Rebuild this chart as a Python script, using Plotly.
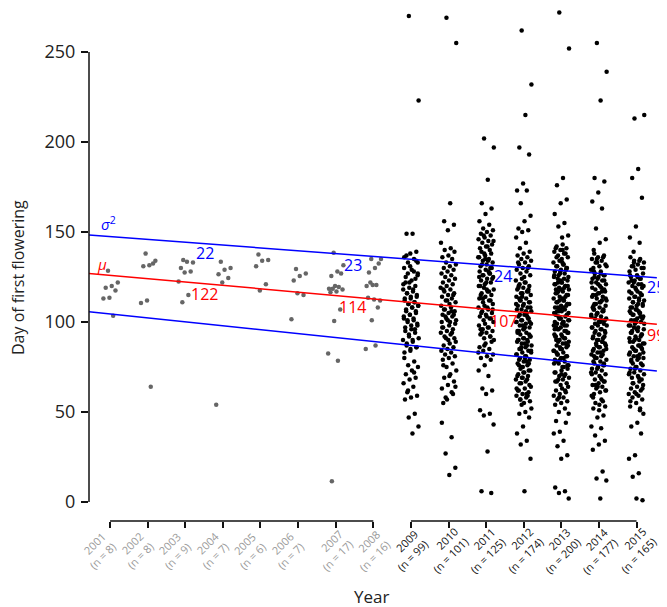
import plotly.graph_objects as go

# ---------------- data ----------------
years_early = [2001, 2002, 2003, 2004, 2005, 2006, 2007, 2008]
years_late = [2009, 2010, 2011, 2012, 2013, 2014, 2015]
n_early = [8, 8, 9, 7, 6, 7, 17, 16]
n_late = [99, 101, 125, 174, 200, 177, 165]

y2001 = [128.5, 122, 120, 119, 117.5, 113.5, 113, 103.5]
y2002 = [138, 134, 131.5, 131, 132.5, 112, 110.5, 64]
y2003 = [134.5, 133, 133.5, 130, 128, 127.5, 122.5, 115, 111]
y2004 = [133.5, 130, 129, 126.5, 124.5, 122, 54]
y2005 = [137.5, 134.5, 134, 131, 121, 117.5]
y2006 = [129.5, 127, 125.5, 123, 115, 116, 101.5]
y2007 = [138.5, 131.5, 128, 125.5, 127, 120, 118.5, 119.5, 118.5, 118, 117, 116.5,
         107, 100.5, 82.5, 78.5, 11.5]
y2008 = [135, 135, 130, 127.5, 132.5, 120.5, 120, 120.5, 122, 112, 112.5, 113.5,
         108, 101, 85, 87]

y2009 = [270, 223, 149, 149, 139, 138, 136, 135, 133, 133, 129, 125, 124, 122, 121,
         118, 116, 115, 114, 113, 111, 110, 109, 108, 106, 105, 104, 102, 101, 100,
         98, 96, 95, 94, 92, 90, 89, 88, 86, 85, 83, 78, 76, 75, 73, 71, 69, 68, 66,
         64, 61, 59, 58, 57, 49, 47, 42, 38, 137, 134, 131, 130, 128, 127, 126, 123,
         122, 120, 119, 118, 117, 116, 114, 113, 112, 111, 110, 109, 108, 107, 106,
         104, 103, 102, 101, 99, 98, 97, 96, 93, 91, 90, 87, 86, 84, 80, 72, 62, 127]
y2010 = [269, 255, 166, 156, 154, 151, 44, 36, 27, 19, 15, 55, 60, 57,
         144, 141, 140, 139, 137, 136, 135, 133, 132, 131, 130,
         129, 128, 127, 126, 125, 124, 123, 122, 121, 120,
         119, 118, 117, 116, 115, 114, 113, 112, 111, 110, 118, 115, 112,
         109, 108, 107, 106, 105, 104, 103, 102, 101, 100, 107, 104, 101, 100, 106, 103,
         99, 98, 97, 96, 95, 94, 93, 92, 91, 90, 97, 94, 91,
         89, 88, 87, 86, 85, 84, 83, 82, 81, 80,
         79, 77, 75, 73, 71, 69, 67, 65, 63, 61, 58, 64, 70, 76]
y2011 = [202, 197, 179, 166, 163, 160, 156, 154, 152, 151, 150,
         149, 148, 147, 146, 145, 144, 143, 142, 141, 140, 148, 145, 142,
         139, 138, 137, 136, 135, 134, 133, 132, 131, 130, 138, 136, 134, 132, 130,
         129, 128, 127, 126, 125, 124, 123, 122, 121, 120, 128, 126, 124, 122, 120, 127,
         119, 118, 117, 116, 115, 114, 113, 112, 111, 110, 118, 115, 112,
         109, 108, 107, 106, 105, 104, 103, 102, 101, 100, 108, 105, 102,
         99, 98, 97, 96, 95, 94, 93, 92, 91, 90, 97, 94,
         89, 88, 86, 85, 84, 82, 81, 80,
         79, 76, 73, 70, 63, 62, 60, 51, 49, 48, 43, 28, 6, 5,
         135, 125, 117, 113, 107, 103, 96, 92, 87, 83]
y2012 = [262, 232, 215, 197, 193, 177, 173, 173, 166, 159, 156, 152, 151, 150, 147,
         144, 141, 139, 138, 137, 136, 135,
         134, 133, 132, 131, 130, 129, 128, 127, 126, 125, 133, 130,
         124, 123, 122, 121, 120, 119, 118, 117, 116, 115, 122, 120, 118, 116,
         114, 113, 112, 111, 110, 109, 108, 107, 106, 105, 113, 111, 109, 107, 105, 112, 108,
         104, 103, 102, 101, 100, 99, 98, 97, 96, 95, 103, 101, 99, 97, 95, 102, 98, 100,
         94, 93, 92, 91, 90, 89, 88, 87, 86, 85, 93, 91, 89, 87, 85, 92, 88, 90,
         84, 83, 82, 81, 80, 79, 78, 77, 76, 75, 83, 81, 79, 77, 75, 82, 78,
         74, 73, 72, 71, 70, 69, 68, 67, 66, 65, 72, 70, 68, 66,
         64, 63, 62, 61, 60, 59, 58, 57, 56, 55, 62, 59,
         54, 52, 50, 49, 47, 42, 38, 34, 32, 24, 6,
         119, 117, 114, 110, 106, 104, 100, 96, 94, 90, 86, 84, 80, 76, 73, 69, 63, 60, 57]
y2013 = [272, 252, 180, 176, 168, 166, 160, 155, 153, 148, 147,
         45, 44, 39, 38, 34, 31, 26, 24, 8, 6, 5, 2,
         143, 142, 141, 140, 139, 138, 137, 136, 135, 141, 138,
         134, 133, 132, 131, 130, 129, 128, 127, 126, 125, 133, 131, 129, 127, 125, 132,
         124, 123, 122, 121, 120, 119, 118, 117, 116, 115, 123, 121, 119, 117, 115, 122, 118, 120,
         114, 113, 112, 111, 110, 109, 108, 107, 106, 105, 113, 111, 109, 107, 105, 112, 108, 110, 106,
         104, 103, 102, 101, 100, 99, 98, 97, 96, 95, 103, 101, 99, 97, 95, 102, 98, 100, 96,
         94, 93, 92, 91, 90, 89, 88, 87, 86, 85, 93, 91, 89, 87, 85, 92, 88, 90,
         84, 83, 82, 81, 80, 79, 78, 77, 76, 75, 83, 81, 79, 77, 75, 82,
         74, 73, 72, 71, 70, 69, 68, 67, 66, 65, 72, 70, 68,
         64, 63, 62, 61, 60, 59, 58, 57, 56, 55, 54, 52, 50, 49,
         140, 136, 130, 128, 126, 124, 122, 120, 118, 116, 114, 112, 110, 108, 106, 104,
         102, 100, 98, 96, 94, 92, 90, 88, 86, 84, 80, 78, 76, 71, 67, 62, 58]
y2014 = [255, 239, 223, 180, 178, 172, 167, 163, 152, 146, 144, 140,
         48, 47, 42, 41, 37, 34, 32, 29, 17, 13, 12, 2,
         138, 137, 136, 135, 134, 133, 132, 131, 130, 136, 133,
         129, 128, 127, 126, 125, 124, 123, 122, 121, 120, 128, 126, 124, 122,
         119, 118, 117, 116, 115, 114, 113, 112, 111, 110, 118, 116, 114, 112, 110,
         109, 108, 107, 106, 105, 104, 103, 102, 101, 100, 108, 106, 104, 102, 100, 107,
         99, 98, 97, 96, 95, 94, 93, 92, 91, 90, 98, 96, 94, 92, 90, 97,
         89, 88, 87, 86, 85, 84, 83, 82, 81, 80, 88, 86, 84, 82, 80,
         79, 78, 77, 76, 75, 74, 73, 72, 71, 70, 78, 76, 74, 72,
         69, 68, 67, 66, 65, 64, 63, 62, 61, 60, 67, 64,
         59, 57, 55, 53, 51, 58, 56,
         135, 131, 127, 125, 123, 121, 119, 117, 115, 113, 111, 109, 107, 105, 103, 101,
         99, 95, 93, 91, 89, 87, 85, 83, 81, 77, 75, 71, 68, 65, 62, 54, 52]
y2015 = [213, 215, 185, 180, 169, 153, 147, 144, 139,
         49, 44, 42, 38, 26, 24, 16, 14, 1, 2,
         136, 135, 134, 133, 132, 131, 130, 129, 128, 134, 131,
         127, 126, 125, 124, 123, 122, 121, 120, 119, 118, 126, 124, 122, 120,
         117, 116, 115, 114, 113, 112, 111, 110, 109, 108, 116, 114, 112, 110, 108, 115,
         107, 106, 105, 104, 103, 102, 101, 100, 99, 98, 106, 104, 102, 100, 98, 105,
         97, 96, 95, 94, 93, 92, 91, 90, 89, 88, 96, 94, 92, 90, 88,
         87, 86, 85, 84, 83, 82, 81, 80, 79, 78, 86, 84, 82, 80,
         77, 76, 75, 74, 73, 72, 71, 70, 69, 68, 75, 72,
         67, 66, 65, 64, 63, 62, 61, 60, 59, 58, 57, 55, 53, 51,
         133, 130, 125, 123, 121, 119, 117, 113, 111, 109, 107, 105, 103, 101, 99, 97,
         95, 93, 91, 89, 87, 85, 83, 81, 79, 77, 74, 71, 69, 66, 63, 60, 56, 52]

values_early = [y2001, y2002, y2003, y2004, y2005, y2006, y2007, y2008]
values_late = [y2009, y2010, y2011, y2012, y2013, y2014, y2015]

# fitted mean and standard deviation at the ends of the fitted line
fit_years = [2000.44, 2015.54]
mu_ends = [127.0, 98.7]
sd_ends = [21.3, 25.9]

# labels printed along the fit
label_years = [2003.52, 2007.45, 2011.45, 2015.52]
mu_labels = ["122", "114", "107", "99"]
sd_labels = ["22", "23", "24", "25"]

yticks = [0, 50, 100, 150, 200, 250]

# ---------------- figure ----------------
# (page has an 8px body margin; figure is sized so the plot sits where intended)
W, H = 659, 599
ML, MR, MT, MB = 81, 0, 0, 86
X_RANGE = [2000.44, 2015.81]
Y_RANGE = [-10.56, 274.44]
JIT = 0.21
FONT = "Open Sans"


def jitter(n):
    return [((i * 0.6180339887 + 0.37) % 1.0 - 0.5) * 2 * JIT for i in range(n)]


def flatten(years, vals):
    xs, ys = [], []
    for yr, v in zip(years, vals):
        off = jitter(len(v))
        xs += [yr + o for o in off]
        ys += list(v)
    return xs, ys


fig = go.Figure()

xe, ye = flatten(years_early, values_early)
xl, yl = flatten(years_late, values_late)

fig.add_trace(go.Scatter(x=xe, y=ye, mode="markers",
                         marker=dict(color="#666666", size=4.5), cliponaxis=False,
                         hoverinfo="skip", showlegend=False))
fig.add_trace(go.Scatter(x=xl, y=yl, mode="markers",
                         marker=dict(color="#000000", size=4.5), cliponaxis=False,
                         hoverinfo="skip", showlegend=False))


def line_at(vals, x):
    t = (x - fit_years[0]) / (fit_years[1] - fit_years[0])
    return vals[0] + t * (vals[1] - vals[0])


upper = [m + s for m, s in zip(mu_ends, sd_ends)]
lower = [m - s for m, s in zip(mu_ends, sd_ends)]
for vals, col in [(upper, "#0000FF"), (lower, "#0000FF"), (mu_ends, "#FF0000")]:
    fig.add_trace(go.Scatter(x=fit_years, y=vals, mode="lines",
                             line=dict(color=col, width=1.5), hoverinfo="skip",
                             showlegend=False, cliponaxis=False))

ann = []
for xv, ms, ss in zip(label_years, mu_labels, sd_labels):
    ann.append(dict(x=xv, y=line_at(upper, xv) - 5.4, xref="x", yref="y", text=ss,
                    showarrow=False, font=dict(family=FONT, size=16, color="#0000FF"),
                    xanchor="center", yanchor="middle"))
    ann.append(dict(x=xv, y=line_at(mu_ends, xv) - 5.8, xref="x", yref="y", text=ms,
                    showarrow=False, font=dict(family=FONT, size=16, color="#FF0000"),
                    xanchor="center", yanchor="middle"))
ann.append(dict(x=2000.95, y=154.5, xref="x", yref="y",
                text="<i>σ</i><sup>2</sup>", showarrow=False,
                font=dict(family=FONT, size=15, color="#0000FF"),
                xanchor="center", yanchor="middle"))
ann.append(dict(x=2000.79, y=132.3, xref="x", yref="y", text="<i>μ</i>",
                showarrow=False, font=dict(family=FONT, size=15, color="#FF0000"),
                xanchor="center", yanchor="middle"))
ann.append(dict(x=0.4896, y=-0.1462, xref="paper", yref="paper", text="Year",
                showarrow=False, font=dict(family=FONT, size=17, color="#222222"),
                xanchor="center", yanchor="middle"))
ann.append(dict(x=-0.1228, y=0.4737, xref="paper", yref="paper",
                text="Day of first flowering", textangle=-90, showarrow=False,
                font=dict(family=FONT, size=16, color="#222222"),
                xanchor="center", yanchor="middle"))

# rotated two-line year labels under the ticks (block centre below-left of tick)
for grp_years, grp_n, col in [(years_early, n_early, "#9a9a9a"),
                              (years_late, n_late, "#111111")]:
    for yr, n in zip(grp_years, grp_n):
        ann.append(dict(x=yr, y=0, xref="x", yref="paper",
                        text=f"{yr}<br>(n = {n})", textangle=-45, align="right",
                        showarrow=False, xanchor="center", yanchor="middle",
                        xshift=-13 if n < 10 else -4, yshift=-29,
                        font=dict(family=FONT, size=11, color=col)))

shapes = [
    dict(type="line", xref="paper", yref="y", x0=0, x1=0, y0=0, y1=250,
         line=dict(color="#111111", width=1.5)),
    dict(type="line", xref="x", yref="paper", x0=years_early[0], x1=years_early[-1],
         y0=0, y1=0, line=dict(color="#111111", width=1.5)),
    dict(type="line", xref="x", yref="paper", x0=years_late[0], x1=years_late[-1],
         y0=0, y1=0, line=dict(color="#111111", width=1.5)),
]

fig.update_layout(
    width=W, height=H,
    margin=dict(l=ML, r=MR, t=MT, b=MB, autoexpand=False),
    paper_bgcolor="white", plot_bgcolor="white",
    font=dict(family=FONT),
    xaxis=dict(range=X_RANGE, showgrid=False, zeroline=False, showline=False,
               ticks="outside", ticklen=6, tickwidth=1.5, tickcolor="#111111",
               tickmode="array", tickvals=years_early + years_late,
               showticklabels=False, automargin=False),
    yaxis=dict(range=Y_RANGE, showgrid=False, zeroline=False, showline=False,
               ticks="outside", ticklen=7, tickwidth=1.5, tickcolor="#111111",
               tickvals=yticks, automargin=False, ticklabelstandoff=2,
               tickfont=dict(family=FONT, size=18, color="#222222")),
    annotations=ann,
    shapes=shapes,
    showlegend=False,
)

fig.write_html("out.html")
